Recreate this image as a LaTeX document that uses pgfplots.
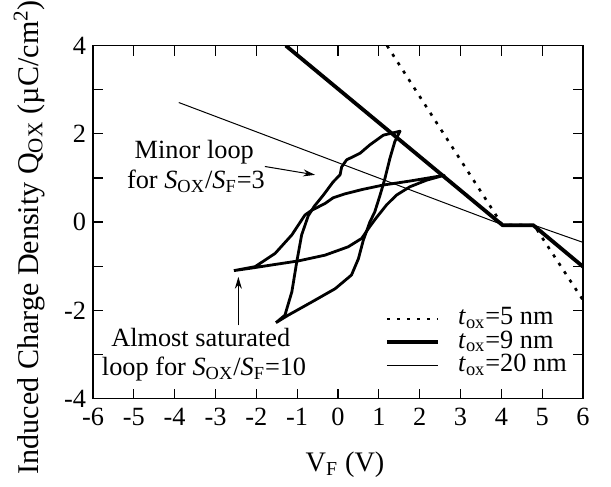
\documentclass[border=0pt]{standalone}
\usepackage{fontspec}
\setmainfont{Liberation Serif}
\usepackage{pgfplots}
\pgfplotsset{compat=1.18}
\usetikzlibrary{arrows.meta}
\newcommand{\fa}{\rmfamily\fontsize{13.2}{15}\selectfont}
\newcommand{\fb}{\rmfamily\fontsize{14.2}{16}\selectfont}
\newcommand{\fc}{\rmfamily\fontsize{15.1}{17}\selectfont}
\begin{document}
\begin{tikzpicture}
\begin{axis}[
  scale only axis, width=245bp, height=176.5bp,
  xmin=-6, xmax=6, ymin=-4, ymax=4,
  xtick={-6,...,6}, ytick={-4,-2,...,4}, minor ytick={-3,-1,1,3},
  tick align=inside, major tick length=5bp, minor tick length=5bp,
  /pgf/number format/assume math mode=true,
  tick label style={font=\fa},
  xticklabel style={yshift=-1.3bp},
  axis line style={line width=0.6bp},
  tick style={black, line width=0.6bp},
  xlabel={V\textsubscript{F} (V)},
  ylabel={Induced Charge Density Q\textsubscript{OX} (µC/cm\textsuperscript{2})},
  xlabel style={font=\fb, inner sep=0pt, at={(axis description cs:0.5,0)}, anchor=base, yshift=-36.5bp, xshift=3.5bp},
  ylabel style={font=\fc, inner sep=0pt, at={(axis description cs:-0.1122,0.4575)}, anchor=base},
  legend style={draw=none, fill=none, at={(axis cs:1.15,-1.93)}, anchor=north west, inner sep=0pt, outer sep=0pt, row sep=0pt,
    font=\fa, nodes={inner xsep=9bp, inner ysep=0pt, text height=8.7bp, text depth=3bp}},
  legend image code/.code={\draw[#1] (0bp,0bp) -- (25.7bp,0bp);},
  legend cell align=left,
]
% t_ox = 5 nm (dotted)
\addplot[black, line width=1.3bp, dash pattern=on 1.6bp off 3.4bp] coordinates {(1.2,4) (4.02,-0.06) (4.8,-0.07) (6,-1.77)};
\addlegendentry{\textit{t}\textsubscript{ox}=5 nm}
% t_ox = 9 nm (thick)
\addplot[black, line width=1.9bp, line join=round] coordinates {(-1.28,4) (4.03,-0.07) (4.78,-0.07) (6,-1.01)};
\addlegendentry{\textit{t}\textsubscript{ox}=9 nm}
% t_ox = 20 nm (thin)
\addplot[black, line width=0.5bp] coordinates {(-3.9,2.71) (4.0,-0.05) (4.8,-0.07) (6,-0.46)};
\addlegendentry{\textit{t}\textsubscript{ox}=20 nm}
% saturated loop (S_OX/S_F=10)
\addplot[black, line width=1.4bp, line join=round, forget plot] coordinates {
(-2.55,-1.10) (-2.03,-1.01) (-1.54,-0.71) (-1.13,-0.29) (-0.81,0.16) (-0.64,0.27) (-0.32,0.42) (-0.12,0.55) (0.17,0.64) (0.60,0.74) (1.11,0.84) (1.76,0.93) (2.60,1.06)
(2.17,0.95) (1.76,0.80) (1.43,0.61) (1.19,0.39) (0.94,0.10) (0.78,-0.10) (0.58,-0.37) (0.25,-0.56) (-0.32,-0.75) (-0.97,-0.88) (-1.54,-0.96) (-2.10,-1.04) (-2.55,-1.10)};
% minor loop (S_OX/S_F=3)
\addplot[black, line width=1.4bp, line join=round, forget plot] coordinates {
(-1.52,-2.28) (-1.30,-2.11) (-1.13,-1.58) (-1.01,-0.90) (-0.89,-0.29) (-0.73,0.14) (-0.58,0.36) (-0.36,0.61) (-0.12,0.91) (0.05,1.07) (0.09,1.25) (0.21,1.41) (0.54,1.56) (0.78,1.75) (1.11,1.97) (1.52,2.06)
(1.39,1.82) (1.27,1.44) (1.15,0.99) (1.03,0.61) (0.90,0.23) (0.78,0.0) (0.62,-0.41) (0.50,-0.83) (0.33,-1.20) (-0.07,-1.51) (-0.64,-1.81) (-1.22,-2.11) (-1.52,-2.28)};
% annotations
\node[font=\fa, anchor=base] at (axis cs:-3.52,1.44) {Minor loop};
\node[font=\fa, anchor=base] at (axis cs:-3.48,0.76) {for \textit{S}\textsubscript{OX}/\textit{S}\textsubscript{F}=3};
\node[font=\fa, anchor=base] at (axis cs:-3.36,-2.83) {Almost saturated};
\node[font=\fa, anchor=base] at (axis cs:-3.28,-3.47) {loop for \textit{S}\textsubscript{OX}/\textit{S}\textsubscript{F}=10};
\draw[line width=0.5bp, -{Stealth[length=6bp,width=3.5bp]}] (axis cs:-1.79,1.26) -- (axis cs:-0.56,1.07);
\draw[line width=0.6bp, -{Stealth[length=6bp,width=3.5bp]}] (axis cs:-2.44,-2.34) -- (axis cs:-2.44,-1.24);
\end{axis}
\path ([xshift=-46.5bp,yshift=-44bp]current axis.south west) rectangle ([xshift=14bp,yshift=22bp]current axis.north east);
\end{tikzpicture}
\end{document}
